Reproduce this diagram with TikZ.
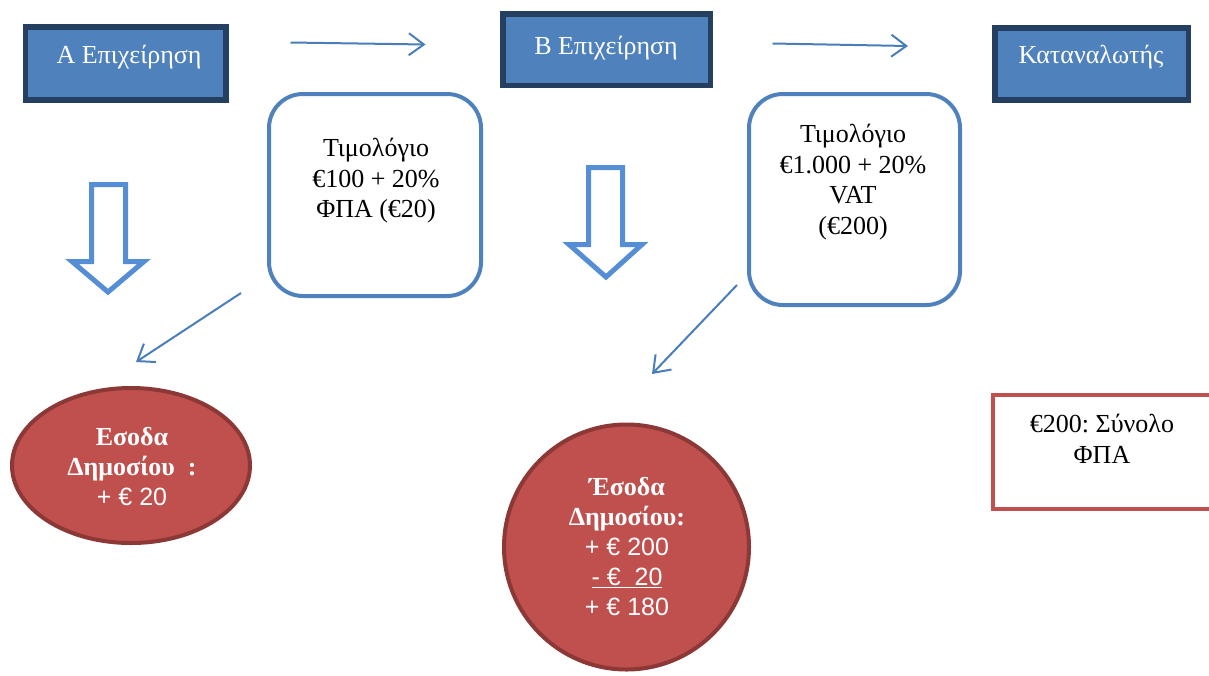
\documentclass[tikz,border=0pt]{standalone}
\usepackage{fontspec}
\setmainfont{Liberation Serif}
\setsansfont{Liberation Sans}
\usetikzlibrary{arrows.meta,shapes.geometric}
\frenchspacing

\definecolor{bizfill}{HTML}{4F81BD}
\definecolor{bizline}{HTML}{243F60}
\definecolor{invline}{HTML}{4F81BD}
\definecolor{flowline}{HTML}{4A7EBB}
\definecolor{hollowline}{HTML}{558ED5}
\definecolor{revfill}{HTML}{C0504D}
\definecolor{revline}{HTML}{8C3836}
\definecolor{totalline}{HTML}{C0504D}

\tikzset{
  bizbox/.style={rectangle, draw=bizline, fill=bizfill, line width=5.5pt,
    inner sep=0pt, outer sep=0pt},
  bizlabel/.style={text=white, font={\fontsize{26}{30}\selectfont},
    inner sep=0pt, anchor=base},
  invoice/.style={rectangle, draw=invline, line width=4pt, rounded corners=34pt,
    inner sep=0pt, outer sep=0pt},
  bodytext/.style={font={\fontsize{26}{30.5}\selectfont}, align=center, inner sep=0pt},
  flow/.style={draw=flowline, line width=2pt,
    -{Straight Barb[length=15pt,width=22pt]}},
  hollowdown/.style={draw=hollowline, line width=5pt, fill=white, line join=miter},
  revenue/.style={draw=revline, fill=revfill, line width=4pt, inner sep=0pt, outer sep=0pt},
  revtext/.style={text=white, align=center, inner sep=0pt,
    font={\fontsize{26}{30}\selectfont}},
  totalbox/.style={rectangle, draw=totalline, line width=4pt, inner sep=0pt, outer sep=0pt},
}

\newcommand{\amountfont}{\sffamily\mdseries\fontsize{25}{30}\selectfont}

\begin{document}
\begin{tikzpicture}[x=1pt,y=-1pt]
\useasboundingbox (0,0) rectangle (1209,675);
\clip (0,0) rectangle (1209,675);

% parties along the supply chain
\node[bizbox, minimum width=200.5pt, minimum height=73.25pt] (firmA) at (125.75,63.4) {};
\node[bizlabel] (firmAtext) at (129,63) {Α Επιχείρηση};
\node[bizbox, minimum width=207.5pt, minimum height=71.5pt] (firmB) at (606.5,49.5) {};
\node[bizlabel] (firmBtext) at (606,54) {Β Επιχείρηση};
\node[bizbox, minimum width=193.5pt, minimum height=72.25pt] (consumer) at (1091.5,63.9) {};
\node[bizlabel] (consumertext) at (1091,63) {Καταναλωτής};

% sales flow
\coordinate (flowAstart) at (290.5,42.5);
\coordinate (flowAend) at (425.5,44.5);
\coordinate (flowBstart) at (772.5,43.5);
\coordinate (flowBend) at (908,46);
\draw[flow] (flowAstart) -- (flowAend);
\draw[flow] (flowBstart) -- (flowBend);

% invoices
\node[invoice, minimum width=212pt, minimum height=202pt] (invA) at (375,195) {};
\node[bodytext] (invAtext) at (376,181) {Τιμολόγιο\\€100 + 20\%\\ΦΠΑ (€20)};
\node[invoice, minimum width=211pt, minimum height=211pt] (invB) at (854.5,199.5) {};
\node[bodytext] (invBtext) at (853,182) {Τιμολόγιο\\€1.000 + 20\%\\VAT\\(€200)};

% hollow down arrows
\draw[hollowdown] (91.5,184.5) -- (125.5,184.5) -- (125.5,261.5) -- (144,261.5)
  -- (108,292) -- (72,261.5) -- (91.5,261.5) -- cycle;
\draw[hollowdown] (588.5,167.5) -- (622.5,167.5) -- (622.5,244.5) -- (642,244.5)
  -- (606,277) -- (569,244.5) -- (588.5,244.5) -- cycle;

% VAT paid to the state
\coordinate (taxAstart) at (241,293);
\coordinate (taxAend) at (136,362);
\coordinate (taxBstart) at (737,285);
\coordinate (taxBend) at (652,374);
\draw[flow] (taxAstart) -- (taxAend);
\draw[flow] (taxBstart) -- (taxBend);

% public revenue
\node[revenue, ellipse, minimum width=238pt, minimum height=155pt] (revA) at (131,465.5) {};
\node[revtext] (revAtext) at (132,467)
  {\bfseries Εσοδα\\\bfseries Δημοσίου\ \ :\\{\amountfont + € 20}};
\node[revenue, circle, minimum size=245pt] (revB) at (626.5,547) {};
\node[revtext] (revBtext) at (627,547)
  {\bfseries Έσοδα\\\bfseries Δημοσίου:\\{\amountfont + € 200}\\
   {\amountfont \underline{- €\ \ 20}}\\{\amountfont + € 180}};

% VAT total
\node[totalbox, minimum width=247pt, minimum height=114pt] (total) at (1116.5,452) {};
\node[bodytext] (totaltext) at (1102,439) {€200: Σύνολο\\ΦΠΑ};
\end{tikzpicture}
\end{document}
